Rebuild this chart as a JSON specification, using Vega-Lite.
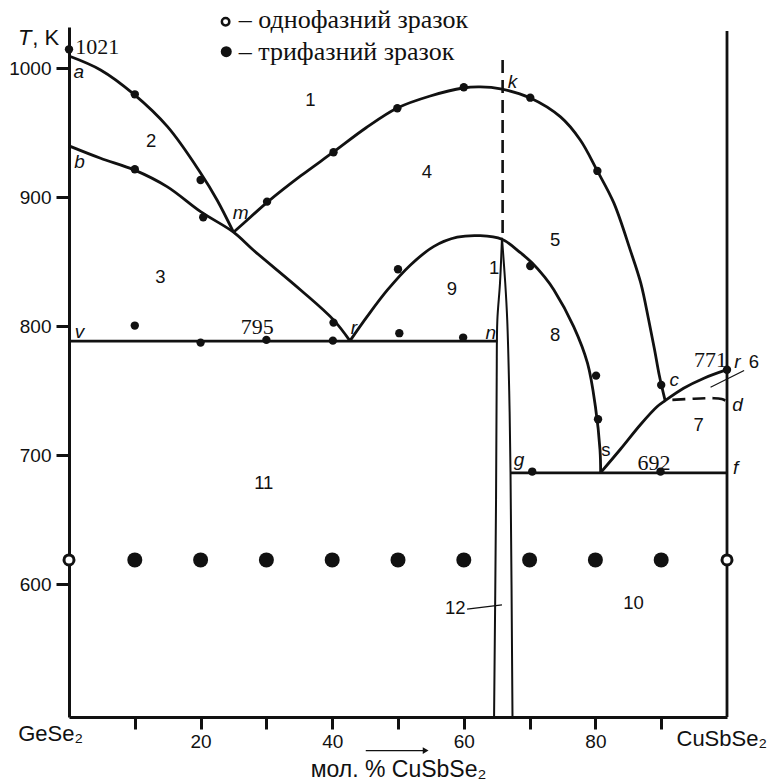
{
"$schema": "https://vega.github.io/schema/vega-lite/v6.json",
"width": 658, "height": 690,
"autosize": {"type": "none"},
"padding": {"left": 69, "top": 27, "right": 48, "bottom": 63},
"background": "white",
"config": {"view": {"stroke": null}, "axis": {"grid": false, "domainColor": "#111", "tickColor": "#111", "labelColor": "#111", "titleColor": "#111"}},
"datasets": {
"thick": [
{"id":"am","o":1,"x":0,"T":1009.5},{"id":"am","o":2,"x":4.8,"T":998.7},{"id":"am","o":3,"x":9.8,"T":980.1},{"id":"am","o":4,"x":15.0,"T":954.5},{"id":"am","o":5,"x":20.0,"T":918.8},{"id":"am","o":6,"x":22.5,"T":897.9},{"id":"am","o":7,"x":25.0,"T":872.9},
{"id":"bmr","o":1,"x":0,"T":939.8},{"id":"bmr","o":2,"x":4.8,"T":930.2},{"id":"bmr","o":3,"x":9.9,"T":921.2},{"id":"bmr","o":4,"x":14.9,"T":908.2},{"id":"bmr","o":5,"x":20,"T":888.8},{"id":"bmr","o":6,"x":25,"T":872.9},{"id":"bmr","o":7,"x":28,"T":859.1},{"id":"bmr","o":8,"x":35.2,"T":828.1},{"id":"bmr","o":9,"x":40.2,"T":804.9},{"id":"bmr","o":10,"x":42.7,"T":788.6},
{"id":"mkc","o":1,"x":25.0,"T":872.9},{"id":"mkc","o":2,"x":27.6,"T":884.7},{"id":"mkc","o":3,"x":30.2,"T":896.4},{"id":"mkc","o":4,"x":35.2,"T":916.5},{"id":"mkc","o":5,"x":40.2,"T":935.1},{"id":"mkc","o":6,"x":45.1,"T":953.7},{"id":"mkc","o":7,"x":49.9,"T":969.2},{"id":"mkc","o":8,"x":54.9,"T":978.5},{"id":"mkc","o":9,"x":59.9,"T":984.7},{"id":"mkc","o":10,"x":62.5,"T":985.5},{"id":"mkc","o":11,"x":65.6,"T":984.0},{"id":"mkc","o":12,"x":70.1,"T":977.0},{"id":"mkc","o":13,"x":74.7,"T":962.3},{"id":"mkc","o":14,"x":77.7,"T":944.4},{"id":"mkc","o":15,"x":80.3,"T":920.4},{"id":"mkc","o":16,"x":82.8,"T":895.6},{"id":"mkc","o":17,"x":85.3,"T":859.0},{"id":"mkc","o":18,"x":86.9,"T":833.4},{"id":"mkc","o":19,"x":88.1,"T":804.8},{"id":"mkc","o":20,"x":89.0,"T":781.6},{"id":"mkc","o":21,"x":89.7,"T":762.2},{"id":"mkc","o":22,"x":90.6,"T":742.3},
{"id":"r9s","o":1,"x":42.7,"T":788.6},{"id":"r9s","o":2,"x":45.3,"T":807.4},{"id":"r9s","o":3,"x":48.4,"T":828.1},{"id":"r9s","o":4,"x":51.9,"T":847.5},{"id":"r9s","o":5,"x":55.4,"T":861.7},{"id":"r9s","o":6,"x":59.0,"T":869.0},{"id":"r9s","o":7,"x":62.5,"T":870.2},{"id":"r9s","o":8,"x":65.8,"T":867.4},{"id":"r9s","o":9,"x":68.6,"T":857.0},{"id":"r9s","o":10,"x":70.4,"T":849.0},{"id":"r9s","o":11,"x":72.3,"T":838.0},{"id":"r9s","o":12,"x":73.7,"T":828.1},{"id":"r9s","o":13,"x":76.7,"T":799.7},{"id":"r9s","o":14,"x":78.8,"T":771.3},{"id":"r9s","o":15,"x":80.0,"T":737.7},{"id":"r9s","o":16,"x":80.7,"T":704.1},{"id":"r9s","o":17,"x":80.8,"T":686.5},
{"id":"scr","o":1,"x":80.8,"T":686.5},{"id":"scr","o":2,"x":83.8,"T":704.6},{"id":"scr","o":3,"x":86.9,"T":724.0},{"id":"scr","o":4,"x":89.4,"T":737.7},{"id":"scr","o":5,"x":90.6,"T":742.3},{"id":"scr","o":6,"x":93.4,"T":751.9},{"id":"scr","o":7,"x":96.5,"T":759.7},{"id":"scr","o":8,"x":100,"T":766.3},
{"id":"vn","o":1,"x":0,"T":788.4},{"id":"vn","o":2,"x":65.1,"T":788.4},
{"id":"gf","o":1,"x":67.1,"T":686.3},{"id":"gf","o":2,"x":100,"T":686.3},
{"id":"right","o":1,"x":100,"T":497},{"id":"right","o":2,"x":100,"T":1028.9}
],
"thin": [
{"id":"l","o":1,"x":65.8,"T":868.5},{"id":"l","o":2,"x":65.5,"T":833.3},{"id":"l","o":3,"x":65.1,"T":804.9},{"id":"l","o":4,"x":65.0,"T":760},{"id":"l","o":5,"x":64.9,"T":665.4},{"id":"l","o":6,"x":64.6,"T":497},
{"id":"r","o":1,"x":65.8,"T":868.5},{"id":"r","o":2,"x":66.3,"T":833.3},{"id":"r","o":3,"x":66.6,"T":804.9},{"id":"r","o":4,"x":66.9,"T":750},{"id":"r","o":5,"x":67.1,"T":686.5},{"id":"r","o":6,"x":67.4,"T":497}
],
"dash": [
{"id":"k","o":1,"x":65.9,"T":1006.4},{"id":"k","o":2,"x":65.9,"T":868.5},
{"id":"cd","o":1,"x":91.7,"T":742.9},{"id":"cd","o":2,"x":95,"T":743.8},{"id":"cd","o":3,"x":98,"T":744.2},{"id":"cd","o":4,"x":99.2,"T":743.5},{"id":"cd","o":5,"x":99.8,"T":742.3}
],
"leader": [
{"id":"l12","o":1,"x":60.5,"T":580.6},{"id":"l12","o":2,"x":65.8,"T":583.9},
{"id":"l6","o":1,"x":97.5,"T":752.7},{"id":"l6","o":2,"x":102.6,"T":765.6}
],
"dots": [
{"x":0,"T":1014.7},{"x":10,"T":979.8},{"x":20,"T":913.4},{"x":10,"T":921.7},{"x":20.4,"T":884.5},{"x":30.1,"T":896.6},{"x":40.2,"T":934.9},{"x":49.9,"T":969.0},{"x":60,"T":985.3},{"x":70.1,"T":977.2},{"x":80.3,"T":920.4},{"x":90.0,"T":754.4},{"x":100,"T":766.3},{"x":10,"T":800.5},{"x":20,"T":787.3},{"x":30,"T":789.4},{"x":40.2,"T":802.8},{"x":40.1,"T":788.8},{"x":50.2,"T":794.6},{"x":59.9,"T":791.2},{"x":50,"T":844.2},{"x":70.1,"T":846.7},{"x":80.1,"T":761.7},{"x":80.4,"T":727.9},{"x":70.4,"T":687.3},{"x":89.9,"T":687.3}
],
"big": [
{"x":10,"T":618.8},{"x":20,"T":618.8},{"x":30,"T":618.8},{"x":40,"T":618.8},{"x":50,"T":618.8},{"x":60,"T":618.8},{"x":70,"T":618.8},{"x":80,"T":618.8},{"x":90,"T":618.8}
],
"open": [
{"x":0,"T":618.8},{"x":100,"T":618.8}
],
"region": [
{"t":"1","x":36.7,"T":975.4},{"t":"2","x":12.5,"T":943.6},{"t":"3","x":13.9,"T":838.4},{"t":"4","x":54.4,"T":919.8},{"t":"5","x":73.9,"T":866.9},{"t":"9","x":58.2,"T":828.9},{"t":"1","x":64.6,"T":845},{"t":"8","x":73.9,"T":793.2},{"t":"6","x":104.1,"T":772.6},{"t":"7","x":95.7,"T":723.5},{"t":"10","x":85.8,"T":585.3},{"t":"11","x":29.6,"T":678.3},{"t":"12","x":58.7,"T":581.4},{"t":"s","x":81.6,"T":704.1}
],
"letters": [
{"t":"a","x":1.5,"T":997.4},{"t":"b","x":1.6,"T":927.6},{"t":"m","x":26.1,"T":887.6},{"t":"v","x":1.6,"T":795.8},{"t":"r","x":43.3,"T":798.4},{"t":"n","x":64.1,"T":794.6},{"t":"k","x":67.4,"T":989.6},{"t":"c","x":92.0,"T":758.4},{"t":"r","x":101.6,"T":772.6},{"t":"d","x":101.6,"T":739},{"t":"g","x":68.4,"T":696.4},{"t":"f","x":101.3,"T":689.9}
],
"temps": [
{"t":"1021","x":4.3,"T":1016.7},{"t":"795","x":28.6,"T":799.7},{"t":"771","x":97.5,"T":773.9},{"t":"692","x":88.9,"T":693.8}
],
"legendText": [
{"t":"– однофазний зразок","x":25.8,"T":1037.4},{"t":"– трифазний зразок","x":25.8,"T":1012.9}
],
"legendOpen": [{"x":23.8,"T":1036.1}],
"legendFilled": [{"x":23.9,"T":1012.9}],
"ends": [
{"t":"GeSe₂","x":-2.8,"T":483.8},{"t":"CuSbSe₂","x":99.2,"T":479.8}
],
"tItalic": [{"t":"T","x":-5.7,"T":1023.3}],
"tRest": [{"t":", K","x":-5.6,"T":1023.3}],
"arrow": [{"x":45.1,"x2":54.0,"T":471}],
"arrowHead": [{"x":54.2,"T":471}]
},
"encoding": {
"x": {"field": "x", "type": "quantitative", "scale": {"domain": [0, 100], "nice": false, "zero": false},
 "axis": {"values": [10,20,30,40,50,60,70,80,90], "labelExpr": "datum.value % 20 == 0 ? datum.label : ''", "domainWidth": 3, "tickWidth": 3, "tickSize": 12, "labelFont": "Liberation Sans", "labelFontSize": 19, "labelPadding": 3, "labelFlush": false, "title": "мол. % CuSbSe₂", "titleFont": "Liberation Sans", "titleFontSize": 23, "titleFontWeight": "normal", "titlePadding": 7, "zindex": 0}},
"y": {"field": "T", "type": "quantitative", "scale": {"domain": [497, 1032], "nice": false, "zero": false},
 "axis": {"values": [600,700,800,900,1000], "format": "d", "domainWidth": 3, "tickWidth": 3, "tickSize": 13, "labelFont": "Liberation Sans", "labelFontSize": 19, "labelPadding": 5, "labelFlush": false, "title": null, "zindex": 0}}
},
"layer": [
{"data": {"name": "thick"}, "mark": {"type": "line", "interpolate": "catmull-rom", "strokeWidth": 2.8, "color": "#111"}, "encoding": {"detail": {"field": "id"}, "order": {"field": "o"}}},
{"data": {"name": "thin"}, "mark": {"type": "line", "interpolate": "catmull-rom", "strokeWidth": 2, "color": "#111"}, "encoding": {"detail": {"field": "id"}, "order": {"field": "o"}}},
{"data": {"name": "dash"}, "mark": {"type": "line", "interpolate": "catmull-rom", "strokeWidth": 2.6, "strokeDash": [13, 7], "color": "#111"}, "encoding": {"detail": {"field": "id"}, "order": {"field": "o"}}},
{"data": {"name": "leader"}, "mark": {"type": "line", "strokeWidth": 1.2, "color": "#111"}, "encoding": {"detail": {"field": "id"}, "order": {"field": "o"}}},
{"data": {"name": "dots"}, "mark": {"type": "point", "shape": "circle", "filled": true, "size": 70, "color": "#111", "opacity": 1}},
{"data": {"name": "big"}, "mark": {"type": "point", "shape": "circle", "filled": true, "size": 225, "color": "#111", "opacity": 1}},
{"data": {"name": "open"}, "mark": {"type": "point", "shape": "circle", "fill": "white", "fillOpacity": 1, "stroke": "#111", "strokeWidth": 3, "size": 100, "opacity": 1}},
{"data": {"name": "legendOpen"}, "mark": {"type": "point", "shape": "circle", "fill": "white", "fillOpacity": 1, "stroke": "#111", "strokeWidth": 2.5, "size": 56, "opacity": 1}},
{"data": {"name": "legendFilled"}, "mark": {"type": "point", "shape": "circle", "filled": true, "size": 121, "color": "#111", "opacity": 1}},
{"data": {"name": "region"}, "mark": {"type": "text", "font": "Liberation Sans", "fontSize": 18.5, "color": "#111", "baseline": "middle", "align": "center"}, "encoding": {"text": {"field": "t"}}},
{"data": {"name": "letters"}, "mark": {"type": "text", "font": "Liberation Sans", "fontStyle": "italic", "fontSize": 19, "color": "#111", "baseline": "middle", "align": "center"}, "encoding": {"text": {"field": "t"}}},
{"data": {"name": "temps"}, "mark": {"type": "text", "font": "Liberation Serif", "fontSize": 22, "color": "#111", "baseline": "middle", "align": "center"}, "encoding": {"text": {"field": "t"}}},
{"data": {"name": "legendText"}, "mark": {"type": "text", "font": "Liberation Serif", "fontSize": 26, "color": "#111", "baseline": "middle", "align": "left"}, "encoding": {"text": {"field": "t"}}},
{"data": {"name": "ends"}, "mark": {"type": "text", "font": "Liberation Sans", "fontSize": 22, "color": "#111", "baseline": "middle", "align": "center"}, "encoding": {"text": {"field": "t"}}},
{"data": {"name": "tItalic"}, "mark": {"type": "text", "font": "Liberation Sans", "fontStyle": "italic", "fontSize": 22, "color": "#111", "baseline": "middle", "align": "right"}, "encoding": {"text": {"field": "t"}}},
{"data": {"name": "tRest"}, "mark": {"type": "text", "font": "Liberation Sans", "fontSize": 22, "color": "#111", "baseline": "middle", "align": "left"}, "encoding": {"text": {"field": "t"}}},
{"data": {"name": "arrow"}, "mark": {"type": "rule", "strokeWidth": 1.3, "color": "#111"}, "encoding": {"x2": {"field": "x2"}}},
{"data": {"name": "arrowHead"}, "mark": {"type": "point", "shape": "triangle-right", "filled": true, "size": 45, "color": "#111", "opacity": 1}}
]
}
